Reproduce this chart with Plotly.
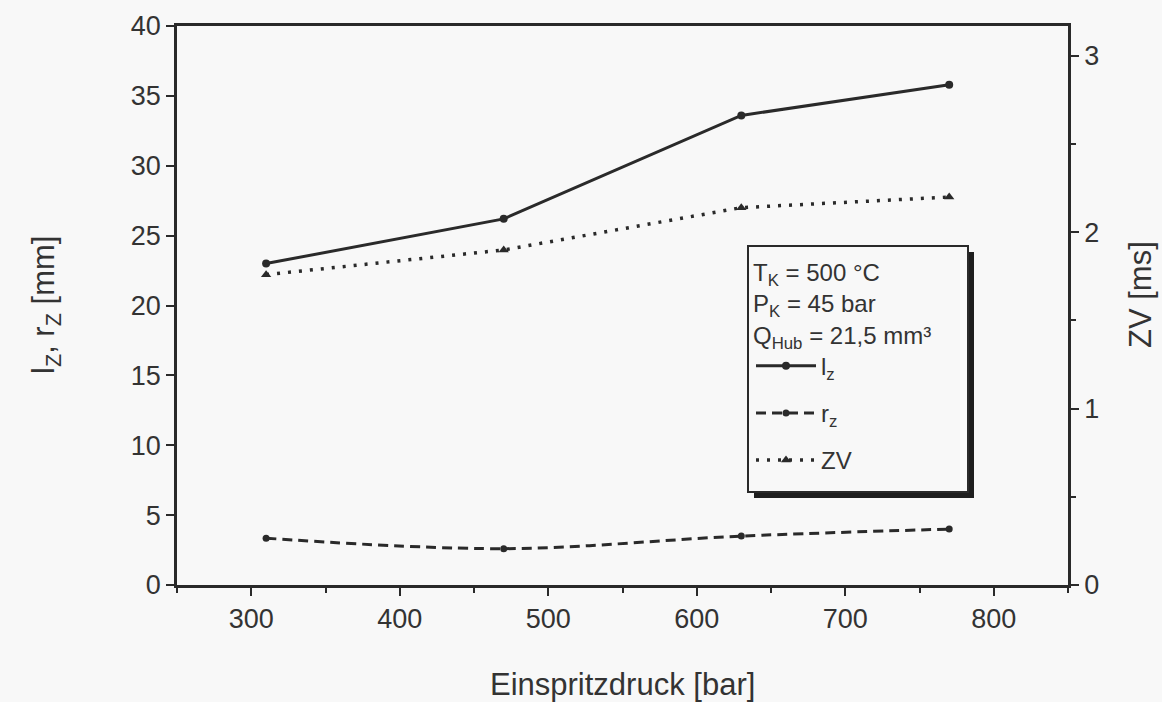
import plotly.graph_objects as go

# ---- data ----
druck = [310, 470, 630, 770]          # Einspritzdruck [bar]
l_z = [23.0, 26.2, 33.6, 35.8]        # mm
r_z = [3.35, 2.6, 3.5, 4.0]           # mm
zv = [1.76, 1.90, 2.14, 2.20]         # ms

x_ticks = [300, 400, 500, 600, 700, 800]
y_ticks = [0, 5, 10, 15, 20, 25, 30, 35, 40]
y2_ticks = [0, 1, 2, 3]

ink = "#2a2a2a"
txt = "#333333"
bg = "#f8f8f8"
font_family = "Liberation Sans, Arial, sans-serif"

fig = go.Figure()
fig.add_trace(go.Scatter(
    x=druck, y=l_z, name="l<sub>z</sub>", mode="lines+markers", legendgroup="a",
    line=dict(color=ink, width=3, dash="solid"),
    marker=dict(symbol="circle", size=8, color=ink)))
fig.add_trace(go.Scatter(
    x=druck, y=r_z, name="r<sub>z</sub>", mode="lines+markers", legendgroup="b",
    line=dict(color=ink, width=3, dash="10px,6px", shape="spline"),
    marker=dict(symbol="circle", size=7, color=ink)))
fig.add_trace(go.Scatter(
    x=druck, y=zv, name="ZV", mode="lines+markers", yaxis="y2", legendgroup="c",
    line=dict(color=ink, width=3.5, dash="3px,8px"),
    marker=dict(symbol="triangle-up", size=9, color=ink)))

axis_common = dict(
    showgrid=False, zeroline=False, showline=True, linecolor=ink, linewidth=2.5,
    ticks="outside", ticklen=8, tickwidth=2, tickcolor=ink,
    tickfont=dict(family=font_family, size=27, color=txt),
    automargin=False,
)

PL, PR, PT, PB = 177, 1068, 26, 585


def px_x(p):
    return (p - PL) / float(PR - PL)


def px_y(p):
    return (PB - p) / float(PB - PT)


title_font = dict(family=font_family, size=31, color=txt)

annotations = [
    dict(text="Einspritzdruck [bar]", xref="paper", yref="paper", x=px_x(622), y=px_y(684),
         xanchor="center", yanchor="middle", showarrow=False, font=title_font),
    dict(text="l<sub>Z</sub>, r<sub>Z</sub> [mm]", xref="paper", yref="paper", x=px_x(46), y=px_y(305),
         xanchor="center", yanchor="middle", showarrow=False, font=title_font, textangle=-90),
    dict(text="ZV [ms]", xref="paper", yref="paper", x=px_x(1140), y=px_y(295),
         xanchor="center", yanchor="middle", showarrow=False, font=title_font, textangle=-90),
]

# legend frame with drop shadow
shadow_style = dict(type="rect", xref="paper", yref="paper", line=dict(width=0),
                    fillcolor="#1e1e1e", layer="below")
shapes = [
    dict(x0=px_x(966), x1=px_x(974), y0=px_y(252), y1=px_y(498), **shadow_style),
    dict(x0=px_x(754), x1=px_x(974), y0=px_y(490), y1=px_y(498), **shadow_style),
    dict(type="rect", xref="paper", yref="paper", layer="below",
         x0=px_x(748), x1=px_x(968), y0=px_y(246), y1=px_y(492),
         line=dict(color=ink, width=2), fillcolor=bg),
]

fig.update_layout(
    width=1162, height=702,
    margin=dict(l=PL, r=1162 - PR, t=PT, b=702 - PB),
    paper_bgcolor=bg, plot_bgcolor=bg,
    font=dict(family=font_family, color=txt),
    xaxis=dict(
        range=[250, 850], tickvals=x_ticks, mirror=True,
        minor=dict(ticks="outside", ticklen=5, tickwidth=2, tickcolor=ink, dtick=50),
        **axis_common),
    yaxis=dict(range=[0, 40], tickvals=y_ticks, **axis_common),
    yaxis2=dict(
        range=[0, 3.17], tickvals=y2_ticks, overlaying="y", side="right",
        minor=dict(ticks="outside", ticklen=5, tickwidth=2, tickcolor=ink, dtick=0.5),
        **axis_common),
    legend=dict(
        x=px_x(751), y=px_y(250), xanchor="left", yanchor="top",
        bgcolor="rgba(0,0,0,0)", borderwidth=0,
        font=dict(family=font_family, size=24, color=txt),
        title=dict(text="T<sub>K</sub> = 500 °C<br>P<sub>K</sub> = 45 bar<br>Q<sub>Hub</sub> = 21,5 mm³",
                   font=dict(family=font_family, size=24, color=txt), side="top"),
        itemwidth=60, traceorder="grouped", tracegroupgap=13,
    ),
    annotations=annotations,
    shapes=shapes,
    showlegend=True,
)

fig.write_html("out.html")
